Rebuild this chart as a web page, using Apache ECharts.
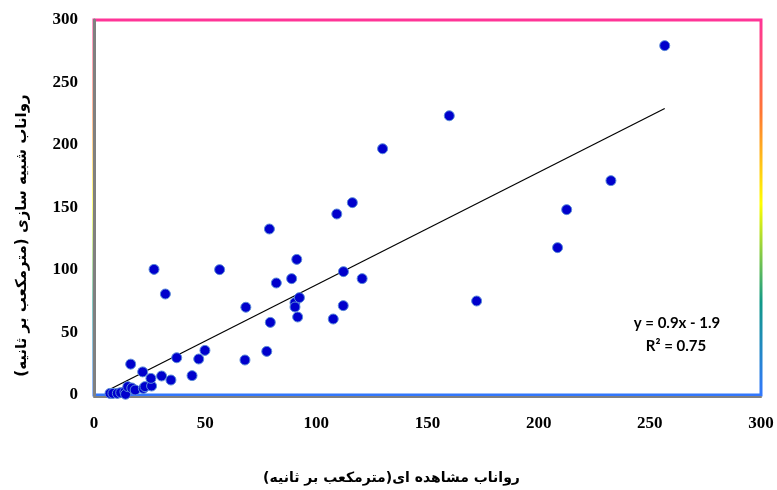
<!DOCTYPE html>
<html>
<head>
<meta charset="utf-8">
<script src="https://cdn.jsdelivr.net/npm/echarts@6/dist/echarts.min.js"></script>
<style>html,body{margin:0;padding:0;background:#fff}#c{width:777px;height:490px}</style>
</head>
<body>
<div id="c"></div>
<script>
// Observed runoff (m3/s)
const observed = [7.2, 8.5, 10.5, 12, 13.9, 14.2, 15.2, 17, 18.5, 22.2, 22.9, 25.9, 16.5, 21.9, 25.6, 30.4, 34.6, 37.2, 44.1, 27, 32.1, 47.1, 49.9, 56.5, 67.9, 68.3, 77.7, 78.9, 79.3, 82, 88.9, 90.4, 90.4, 91.2, 91.6, 92.4, 107.6, 109.2, 112.1, 112.2, 116.2, 120.6, 129.8, 159.8, 172.1, 208.5, 212.6, 232.5, 256.7];
// Simulated runoff (m3/s)
const simulated = [1.3, 1.3, 1.3, 1.9, 2.7, 0.6, 6.7, 5.6, 4, 5.3, 6.7, 7.2, 24.7, 18.5, 13.3, 15.2, 12, 29.8, 15.5, 100.5, 80.8, 28.8, 35.7, 100.3, 28, 70.2, 34.9, 132.8, 58.1, 89.6, 93.1, 73.9, 70.4, 108.5, 62.4, 77.9, 60.8, 144.8, 71.5, 98.7, 153.9, 93.1, 197, 223.4, 75.2, 117.9, 148.3, 171.5, 279.5];
// Trend line as printed on the chart
const slope = 0.9, intercept = -1.9;
const trendX = [7.2, 256.7];
const xTicks = [0, 50, 100, 150, 200, 250, 300];
const yTicks = [0, 50, 100, 150, 200, 250, 300];
const xTitle = 'رواناب مشاهده ای(مترمکعب بر ثانیه)';
const yTitle = 'رواناب شبیه سازی (مترمکعب بر ثانیه)';
const eqText = 'y = 0.9x - 1.9';
const r2Text = 'R² = 0.75';

const points = observed.map((x, i) => [x, simulated[i]]);
const trend = trendX.map(x => [x, slope * x + intercept]);

const chart = echarts.init(document.getElementById('c'), null, {renderer: 'canvas'});
const tickFont = {fontFamily: '"Liberation Serif", "Times New Roman", serif', fontWeight: 'bold', fontSize: 17, color: '#000'};
chart.setOption({
  animation: false,
  grid: {
    left: 94, right: 16, top: 20, bottom: 95, show: true,
    borderWidth: 3,
    borderColor: new echarts.graphic.LinearGradient(0, 0, 0, 1, [
      {offset: 0, color: '#ff3399'},
      {offset: 0.25, color: '#ff7733'},
      {offset: 0.49, color: '#ffff00'},
      {offset: 0.75, color: '#119988'},
      {offset: 1, color: '#3377ff'}
    ])
  },
  xAxis: {
    type: 'value', min: xTicks[0], max: xTicks[xTicks.length - 1], interval: 50,
    offset: 2,
    axisLine: {show: true, onZero: false, lineStyle: {color: '#808080', width: 2}},
    axisTick: {show: false}, splitLine: {show: false},
    axisLabel: Object.assign({margin: 18}, tickFont),
    name: xTitle, nameLocation: 'middle', nameGap: 74,
    nameTextStyle: {fontFamily: '"DejaVu Sans", sans-serif', fontWeight: 'bold', fontSize: 14, color: '#000', padding: [0, 72, 0, 0]}
  },
  yAxis: {
    type: 'value', min: yTicks[0], max: yTicks[yTicks.length - 1], interval: 50,
    axisLine: {show: true, onZero: false, lineStyle: {color: '#808080', width: 3}},
    axisTick: {show: false}, splitLine: {show: false},
    axisLabel: Object.assign({margin: 16}, tickFont),
    name: yTitle, nameLocation: 'middle', nameGap: 64, nameRotate: 90,
    nameTextStyle: {fontFamily: '"DejaVu Sans", sans-serif', fontWeight: 'bold', fontSize: 15, color: '#000', padding: [0, 56, 0, 0]}
  },
  series: [
    {
      type: 'line', data: trend, symbol: 'none', silent: true, z: 3,
      lineStyle: {color: '#000', width: 1.2}
    },
    {
      type: 'scatter', data: points, symbol: 'circle', symbolSize: 10, z: 4,
      itemStyle: {color: '#0000cc', opacity: 1, borderColor: '#5a8ad8', borderWidth: 1}
    }
  ],
  graphic: [
    {type: 'text', x: 677, y: 323, style: {text: eqText, align: 'center', verticalAlign: 'middle', font: 'bold 15px Lato, "Open Sans", sans-serif', fill: '#000'}},
    {type: 'text', x: 676, y: 346, style: {text: r2Text, align: 'center', verticalAlign: 'middle', font: 'bold 15px Lato, "Open Sans", sans-serif', fill: '#000'}}
  ]
});
</script>
</body>
</html>
